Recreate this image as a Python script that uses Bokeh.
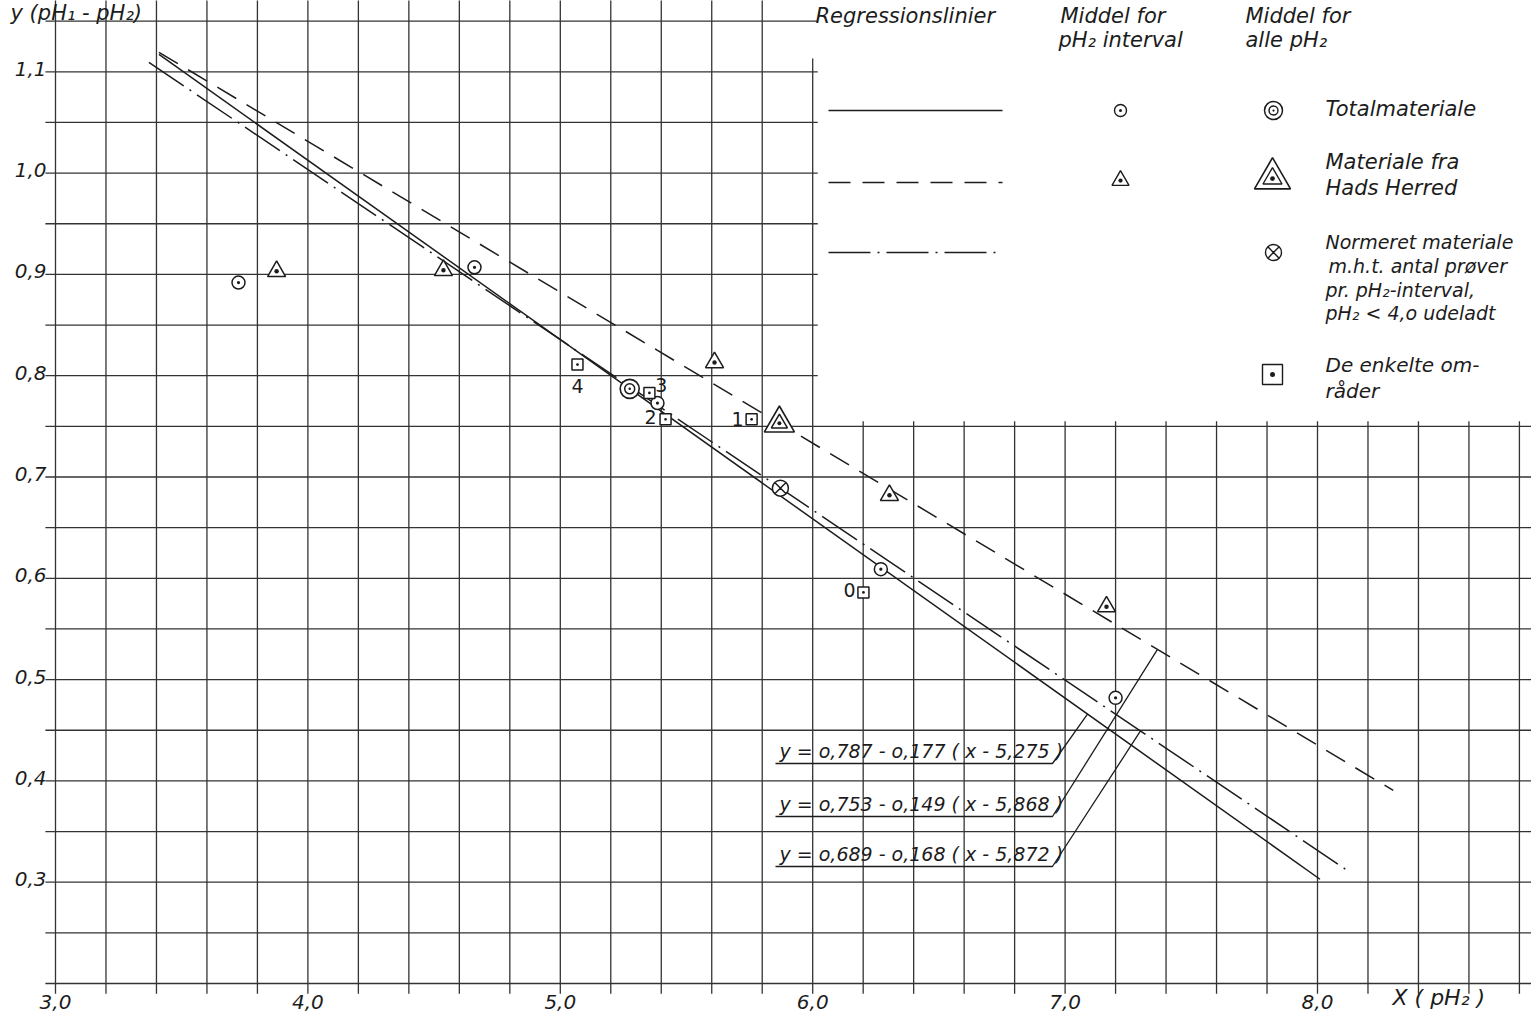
import numpy as np
from bokeh.plotting import figure
from bokeh.models import Range1d
from bokeh.core.properties import value
from bokeh.embed import file_html
from bokeh.resources import INLINE

# ---------------- data ----------------
x_ticks = [3.0, 4.0, 5.0, 6.0, 7.0, 8.0]
x_tick_labels = ["3,0", "4,0", "5,0", "6,0", "7,0", "8,0"]
y_ticks = [0.3, 0.4, 0.5, 0.6, 0.7, 0.8, 0.9, 1.0, 1.1]
y_tick_labels = ["0,3", "0,4", "0,5", "0,6", "0,7", "0,8", "0,9", "1,0", "1,1"]

# regression lines  y = a - b (x - xm), drawn from x0 to x1
reg_names = ["Totalmateriale", "Hads Herred", "Normeret materiale"]
reg_a = [0.787, 0.753, 0.689]
reg_b = [0.177, 0.149, 0.168]
reg_xm = [5.275, 5.868, 5.872]
reg_x0 = [3.41, 3.41, 3.37]
reg_x1 = [8.01, 8.30, 8.11]
reg_labels = ["y = o,787 - o,177 ( x - 5,275 )",
              "y = o,753 - o,149 ( x - 5,868 )",
              "y = o,689 - o,168 ( x - 5,872 )"]

# Middel for pH2 interval - Totalmateriale
tot_x = [3.725, 4.66, 5.385, 6.27, 7.20]
tot_y = [0.892, 0.907, 0.773, 0.609, 0.482]
# Middel for pH2 interval - Hads Herred
hads_x = [3.876, 4.537, 5.611, 6.304, 7.164]
hads_y = [0.903, 0.904, 0.813, 0.682, 0.572]
# Middel for alle pH2
all_tot = [5.275, 0.787]
all_hads = [5.868, 0.753]
all_norm = [5.872, 0.689]
# De enkelte omraader
omr_x = [6.201, 5.758, 5.417, 5.353, 5.068]
omr_y = [0.586, 0.757, 0.757, 0.783, 0.811]
omr_labels = ["0", "1", "2", "3", "4"]

# ---------------- layout helpers (page pixel -> data) ----------------
def px2x(px):
    return 3.0 + (px - 55.0) / 252.4

def px2y(py):
    return 0.2 + (983.0 - py) / 1013.0

W, H = 1531, 1015
X0, X1 = px2x(0), px2x(W)
Y0, Y1 = px2y(H), px2y(0)

INK = "#1c1c1c"
FONT = value("DejaVu Sans")

p = figure(width=W, height=H, x_range=Range1d(X0, X1), y_range=Range1d(Y0, Y1),
           output_backend="svg", toolbar_location=None, min_border=0,
           background_fill_color="white", border_fill_color="white")
p.axis.visible = False
p.grid.visible = False
p.outline_line_color = None

# ---------------- grid ----------------
gx = np.round(np.arange(3.0, 8.81, 0.2), 2)
gy = np.round(np.arange(0.2, 1.151, 0.05), 2)
vx0, vy0, vx1, vy1 = [], [], [], []
for x in gx:
    if x < 5.99:
        top = Y1 + 0.01
    elif x < 6.01:
        top = px2y(58)
    else:
        top = 0.755
    vx0.append(x); vx1.append(x); vy0.append(0.19); vy1.append(top)
hx0, hy0, hx1, hy1 = [], [], [], []
for y in gy:
    right = X1 + 0.01 if y <= 0.751 else 6.02
    hx0.append(2.96); hx1.append(right); hy0.append(y); hy1.append(y)
p.segment(vx0, vy0, vx1, vy1, line_color="#333333", line_width=1.3)
p.segment(hx0, hy0, hx1, hy1, line_color="#333333", line_width=1.3)

# ---------------- tick labels ----------------
p.text(x_ticks, [px2y(1001)] * len(x_ticks), text=x_tick_labels, text_font=FONT,
       text_font_style="italic", text_font_size="20px", text_color=INK,
       text_align="center", text_baseline="middle")
p.text([px2x(46)] * len(y_ticks), y_ticks, text=y_tick_labels, text_font=FONT,
       text_font_style="italic", text_font_size="20px", text_color=INK,
       text_align="right", text_baseline="bottom", y_offset=4)
p.text([px2x(1392)], [px2y(997)], text=["X ( pH\u2082 )"], text_font=FONT,
       text_font_style="italic", text_font_size="22px", text_color=INK,
       text_align="left", text_baseline="middle")
p.text([px2x(10)], [px2y(24)], text=["y (pH\u2081 - pH\u2082)"], text_font=FONT,
       text_font_style="italic", text_font_size="21px", text_color=INK,
       text_align="left", text_baseline="bottom")

# ---------------- regression lines ----------------
dashes = ["solid", "22 12", "42 7 2 7"]
for a, b, xm, x0, x1, d in zip(reg_a, reg_b, reg_xm, reg_x0, reg_x1, dashes):
    xs = np.array([x0, x1])
    ys = a - b * (xs - xm)
    p.line(xs, ys, line_color=INK, line_width=1.5, line_dash=d)

# equation labels with leader lines
lab_under_py = [763, 816, 866]
leader_px = [1087, 1157, 1140]
for lab, upy, lpx, a, b, xm in zip(reg_labels, lab_under_py, leader_px, reg_a, reg_b, reg_xm):
    uy = px2y(upy)
    xl, xr = px2x(775), px2x(1052)
    xt = px2x(lpx)
    yt = a - b * (xt - xm)
    p.line([xl, xr, xt], [uy, uy, yt], line_color=INK, line_width=1.3)
    p.text([px2x(779)], [uy], text=[lab], text_font=FONT, text_font_style="italic",
           text_font_size="19px", text_color=INK, text_align="left",
           text_baseline="bottom", y_offset=-2)

# ---------------- points ----------------
p.scatter(tot_x, tot_y, marker="circle_dot", size=13, fill_color="white",
          line_color=INK, line_width=1.5)
p.scatter(hads_x, hads_y, marker="triangle_dot", size=18, fill_color="white",
          line_color=INK, line_width=1.5)
p.scatter(omr_x, omr_y, marker="square_dot", size=11, fill_color="white",
          line_color=INK, line_width=1.5)
p.scatter([all_tot[0]], [all_tot[1]], marker="circle", size=19, fill_color="white",
          line_color=INK, line_width=1.6)
p.scatter([all_tot[0]], [all_tot[1]], marker="circle_dot", size=10, fill_color="white",
          line_color=INK, line_width=1.5)
p.scatter([all_hads[0]], [all_hads[1]], marker="triangle", size=30, fill_color="white",
          line_color=INK, line_width=1.6)
p.scatter([all_hads[0]], [all_hads[1]], marker="triangle_dot", size=16, fill_color="white",
          line_color=INK, line_width=1.5)
p.scatter([all_norm[0]], [all_norm[1]], marker="circle_x", size=16, fill_color="white",
          line_color=INK, line_width=1.5)

# area labels
lab_dx = [-14, -14, -15, 12, 0]
lab_dy = [-2, 0, -2, -8, 21]
for xv, yv, t, dx, dy in zip(omr_x, omr_y, omr_labels, lab_dx, lab_dy):
    p.text([xv], [yv], text=[t], text_font=FONT, text_font_size="19px",
           text_color=INK, text_align="center", text_baseline="middle",
           x_offset=dx, y_offset=dy)

# ---------------- legend ----------------
def ltext(px, py, s, size="21px"):
    p.text([px2x(px)], [px2y(py)], text=[s], text_font=FONT, text_font_style="italic",
           text_font_size=size, text_color=INK, text_align="left", text_baseline="middle")

ltext(815, 15, "Regressionslinier")
ltext(1060, 15, "Middel for")
ltext(1058, 39, "pH\u2082 interval")
ltext(1245, 15, "Middel for")
ltext(1245, 39, "alle pH\u2082")

for py, d in zip([110, 182, 252], dashes):
    p.line([px2x(828), px2x(1002)], [px2y(py), px2y(py)], line_color=INK,
           line_width=1.5, line_dash=d)

p.scatter([px2x(1120)], [px2y(110)], marker="circle_dot", size=12, fill_color="white",
          line_color=INK, line_width=1.4)
p.scatter([px2x(1120)], [px2y(180)], marker="triangle_dot", size=17, fill_color="white",
          line_color=INK, line_width=1.4)
p.scatter([px2x(1273)], [px2y(110)], marker="circle", size=18, fill_color="white",
          line_color=INK, line_width=1.5)
p.scatter([px2x(1273)], [px2y(110)], marker="circle_dot", size=9, fill_color="white",
          line_color=INK, line_width=1.4)
p.scatter([px2x(1272)], [px2y(178)], marker="triangle", size=36, fill_color="white",
          line_color=INK, line_width=1.6)
p.scatter([px2x(1272)], [px2y(178)], marker="triangle_dot", size=19, fill_color="white",
          line_color=INK, line_width=1.4)
p.scatter([px2x(1273)], [px2y(252)], marker="circle_x", size=16, fill_color="white",
          line_color=INK, line_width=1.4)
p.scatter([px2x(1272)], [px2y(374)], marker="square_dot", size=20, fill_color="white",
          line_color=INK, line_width=1.4)

ltext(1325, 108, "Totalmateriale")
ltext(1325, 161, "Materiale fra")
ltext(1325, 187, "Hads Herred")
ltext(1325, 241, "Normeret materiale", "19px")
ltext(1328, 265, "m.h.t. antal prøver", "19px")
ltext(1325, 289, "pr. pH\u2082-interval,", "19px")
ltext(1325, 312, "pH\u2082 < 4,o udeladt", "19px")
ltext(1325, 364, "De enkelte om-", "20px")
ltext(1325, 390, "råder", "20px")

open("out.html", "w").write(file_html(p, INLINE))
